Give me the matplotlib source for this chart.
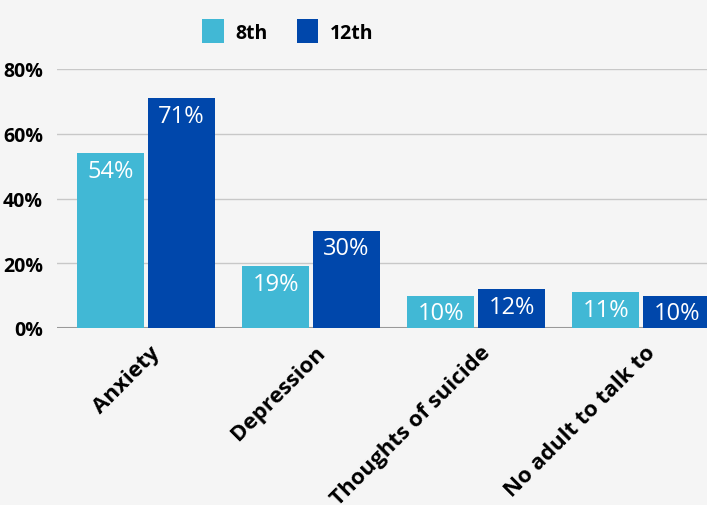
import numpy as np
import matplotlib.pyplot as plt

categories = ['Anxiety', 'Depression', 'Thoughts of suicide', 'No adult to talk to']
grade8 = [54, 19, 10, 11]
grade12 = [71, 30, 12, 10]
yticks = [0, 20, 40, 60, 80]

c8 = '#41b8d5'
c12 = '#0047ab'
bg = '#f5f5f5'

plt.rcParams['font.family'] = ['Open Sans', 'DejaVu Sans']

fig = plt.figure(figsize=(7.07, 5.06), dpi=100, facecolor=bg)
ax = fig.add_axes([57/707, 177/506, 0.943, 259/506], facecolor=bg)

x = np.arange(len(categories))
w = 0.406
off = 0.215
b1 = ax.bar(x - off, grade8, w, color=c8, label='8th', zorder=3)
b2 = ax.bar(x + off, grade12, w, color=c12, label='12th', zorder=3)

for bars, vals in ((b1, grade8), (b2, grade12)):
    for b, v in zip(bars, vals):
        ax.annotate(f'{v}%', (b.get_x() + b.get_width() / 2, v),
                    xytext=(0, -4), textcoords='offset points',
                    ha='center', va='top', color='white', fontsize=17, zorder=4)

ax.set_xlim(-0.54, 3.5)
ax.set_ylim(0, 80)
ax.set_yticks(yticks)
ax.set_yticklabels([f'{t}%' for t in yticks], fontsize=14, fontweight='bold')
ax.set_xticks(x + 0.02)
ax.set_xticklabels(categories, rotation=45, ha='right', rotation_mode='anchor',
                   fontsize=16, fontweight='bold')
ax.tick_params(length=0)
ax.tick_params(axis='y', pad=10)
ax.tick_params(axis='x', pad=10)
ax.grid(axis='y', color='#c8c8c8', linewidth=1, zorder=0)
for s in ax.spines.values():
    s.set_visible(False)
ax.axhline(0, color='#999999', linewidth=1.5, zorder=2)

fig.legend(loc='upper center', bbox_to_anchor=(0.407, 0.995), ncol=2, frameon=False,
           prop={'weight': 'bold', 'size': 14}, handlelength=1.1, handleheight=1.55,
           columnspacing=1.5, handletextpad=0.6)

fig.savefig('out.png', dpi=100, facecolor=bg)
